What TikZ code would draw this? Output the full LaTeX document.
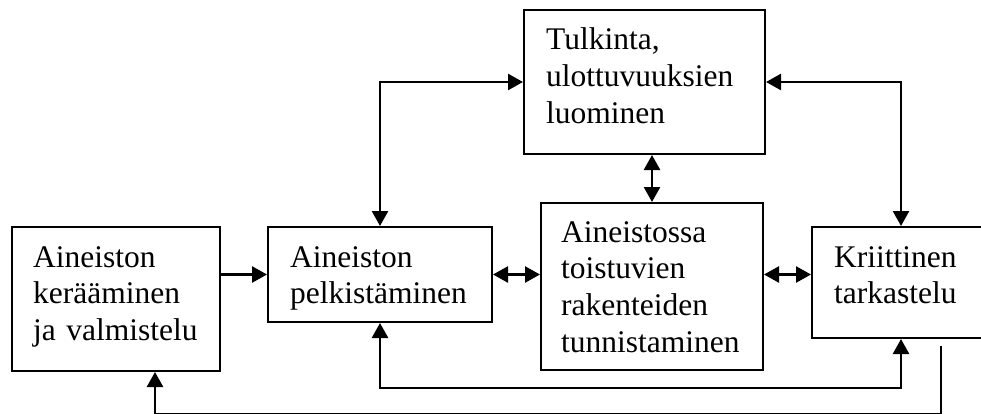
\documentclass[tikz,border=0pt]{standalone}
\usepackage{fontspec}
\setmainfont{Liberation Serif}
\usetikzlibrary{arrows.meta,calc}
\begin{document}
\begin{tikzpicture}[x=1pt,y=-1pt,
  box/.style={draw=black,line width=2pt,rectangle,inner sep=0pt,minimum width=#1},
  txt/.style={anchor=base west,inner sep=0pt,text width=240pt,align=left,
    font=\fontsize{31.5}{36.7}\selectfont},
  conn/.style={line width=2.5pt},
  tip/.tip={Triangle[length=15pt,width=16pt]}]
\useasboundingbox (0,0) rectangle (981,414);
\clip (0,0) rectangle (981,414);
% boxes
\node[box=208pt,minimum height=144pt] (A) at (116,299) {};
\node[box=224pt,minimum height=95pt]  (B) at (380,274.5) {};
\node[box=222pt,minimum height=167pt] (C) at (652,286.5) {};
\node[box=241pt,minimum height=144pt] (T) at (644.5,82) {};
\node[box=188pt,minimum height=111pt] (D) at (906,282.5) {};
% texts
\node[txt] (tA) at (33,267) {Aineiston\\kerääminen\\ja valmistelu};
\node[txt] (tB) at (290,267) {Aineiston\\pelkistäminen};
\node[txt] (tC) at (561,242) {Aineistossa\\toistuvien\\rakenteiden\\tunnistaminen};
\node[txt] (tT) at (546,50) {Tulkinta,\\ulottuvuuksien\\luominen};
\node[txt] (tD) at (834,267) {Kriittinen\\tarkastelu};
% connectors
\coordinate (Dn) at ([xshift=-5pt]D.north);
\coordinate (Ds) at ([xshift=-5pt]D.south);
\coordinate (As) at ([xshift=39pt]A.south);
\coordinate (Rs) at (941,346);
\draw[conn,-tip] (A.east |- B.west) -- (B.west);
\draw[conn,tip-tip] (B.east) -- (C.west |- B.east);
\draw[conn,tip-tip] (C.east |- B.east) -- (D.west |- B.east);
\draw[conn,tip-tip] (T.south -| C.north) -- (C.north);
\draw[conn,tip-tip] (B.north) |- (T.west);
\draw[conn,tip-tip] (T.east) -| (Dn);
\draw[conn,tip-tip] (B.south) -- ++(0,65) -| (Ds);
\draw[conn,-tip] (Rs) -- (Rs |- 0,414.6) -| (As);
\end{tikzpicture}
\end{document}
